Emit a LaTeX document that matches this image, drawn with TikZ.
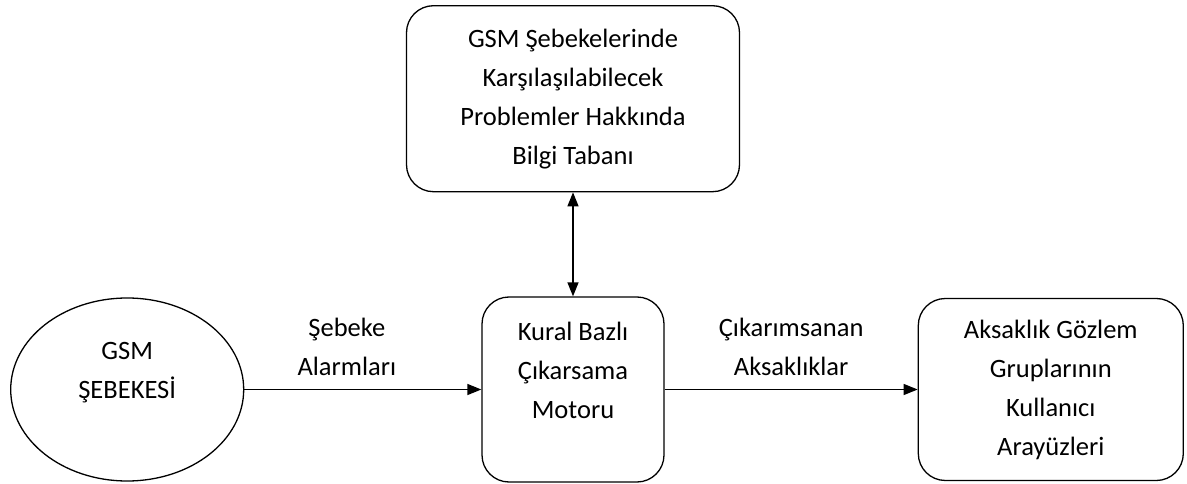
\documentclass[tikz,border=0pt]{standalone}
\usepackage{fontspec}
\setmainfont{Carlito}
\usetikzlibrary{arrows.meta, positioning, shapes.geometric}

\begin{document}
\begin{tikzpicture}[
  x=1pt, y=1pt,
  node distance=100pt,
  box/.style={draw, rounded corners=27pt, line width=1.3pt, align=center, inner sep=0pt, font=\fontsize{26.5}{39}\selectfont},
  oval/.style={draw, ellipse, line width=1.3pt, align=center, inner sep=0pt, font=\fontsize{26.5}{39}\selectfont},
  lbl/.style={align=center, font=\fontsize{26.5}{39}\selectfont},
  >={Triangle[length=14pt, width=11pt]},
  line width=1.3pt
]
\useasboundingbox (0,0) rectangle (1187,-484);

% Inference engine in the middle
\node[box, minimum width=182pt, minimum height=185pt] (motor) at (573,-389.5) {Kural Bazlı\\Çıkarsama\\Motoru\\~};

% Knowledge base on top
\node[box, minimum width=333pt, minimum height=186pt, above=104pt of motor] (kb) {GSM Şebekelerinde\\Karşılaşılabilecek\\Problemler Hakkında\\Bilgi Tabanı};

% Network and user interfaces
\node[oval, minimum width=233pt, minimum height=183pt, left=237pt of motor] (gsm) {GSM\\ŞEBEKESİ\\~};
\node[box, minimum width=265pt, minimum height=182pt, right=253pt of motor] (ui) {Aksaklık Gözlem\\Gruplarının\\Kullanıcı\\Arayüzleri};

% Connections
\draw[->] (gsm) -- (motor) node[midway, lbl, xshift=-16pt, yshift=43pt] {Şebeke\\Alarmları};
\draw[->] (motor) -- (ui) node[midway, lbl, yshift=43pt] {Çıkarımsanan\\Aksaklıklar};
\draw[<->] (kb) -- (motor);

\end{tikzpicture}
\end{document}
